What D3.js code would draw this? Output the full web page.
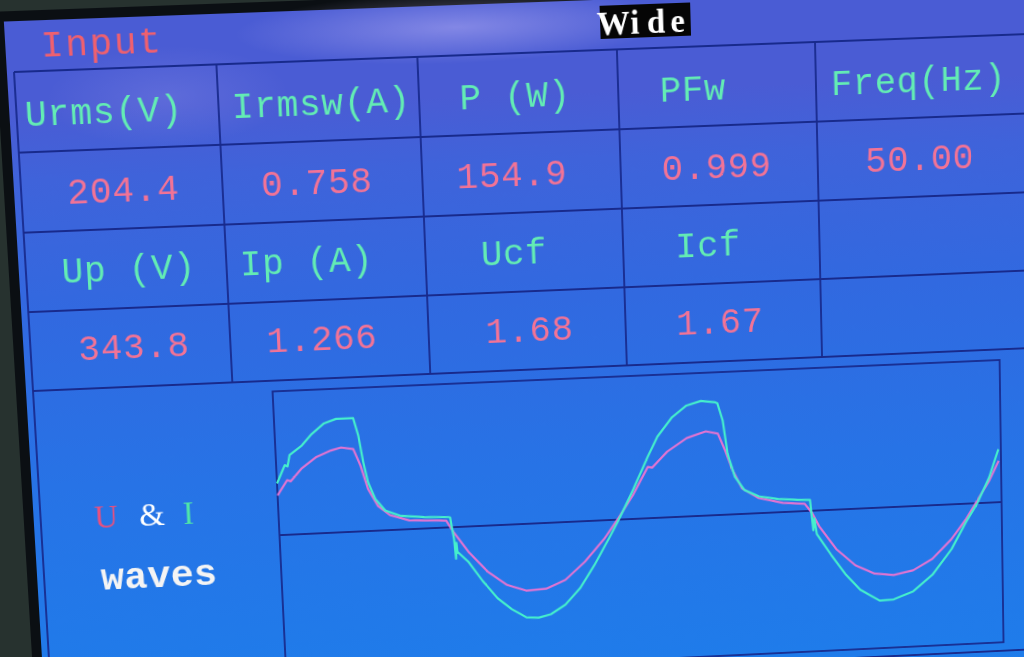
<!DOCTYPE html>
<html><head><meta charset="utf-8">
<script src="https://cdn.jsdelivr.net/npm/d3@7"></script>
<style>
html,body{margin:0;padding:0;width:1024px;height:657px;overflow:hidden;background:#27322f;}
#stage{position:absolute;left:0;top:0;width:1200px;height:820px;transform-origin:0 0;}
svg{display:block;}
text{white-space:pre;}
</style></head><body>
<div id="stage"></div>
<script>
// ---------- data ----------
const titleLeft = "Input";
const titleRight = "Wide";
const headerLabels = ["Urms(V)", "Irmsw(A)", "P (W)", "PFw", "Freq(Hz)"];
const headerValues = ["204.4", "0.758", "154.9", "0.999", "50.00"];
const peakLabels = ["Up (V)", "Ip (A)", "Ucf", "Icf"];
const peakValues = ["343.8", "1.266", "1.68", "1.67"];
const waveTitle = ["U", "&", "I"];
const waveSub = "waves";

// voltage trace U (V) vs time (ms)
const uTimeMs = [0,0.56,0.75,1.39,2.22,3.02,3.58,4.24,4.60,4.95,5.45,6.09,7.14,8.76,9.16,9.54,10.31,11.33,12.38,13.44,14.52,15.61,16.72,17.82,18.67,19.52,20.36,20.6,21.46,22.55,23.62,24.28,24.66,25.04,25.54,26.46,27.79,29.0,29.39,29.78,30.70,31.75,32.82,33.89,34.98,36.07,37.15,37.97,38.65,39.33,39.87];
const uVolt = [162,222,216,267,311,334,344,336,267,172,101,61,36,30,28,-20,-103,-188,-247,-274,-270,-237,-166,-77,8,101,210,206,269,320,344,333,263,182,105,62,38,30,-8,-65,-162,-233,-271,-281,-265,-221,-144,-66,12,91,170];
// current trace I (A) vs time (ms)
const iTimeMs = [0,0.47,0.62,0.76,1.45,2.01,2.71,3.38,4.31,4.55,4.75,4.97,5.33,5.84,6.63,7.96,9.29,9.38,9.55,9.62,9.67,9.71,10.28,11.04,11.82,12.59,13.38,14.05,14.74,15.56,16.40,17.24,18.08,18.67,19.52,20.37,20.94,21.78,22.59,23.40,24.18,24.30,24.57,24.79,25.16,25.68,26.47,27.54,28.61,29.30,29.45,29.52,29.64,30.42,31.22,32.0,33.07,33.87,34.97,36.06,37.16,37.96,38.64,39.33,39.86];
const iAmp = [0.568,0.764,0.75,0.873,0.971,1.091,1.201,1.244,1.244,1.048,0.764,0.535,0.349,0.218,0.153,0.127,0.114,0.109,-0.131,-0.349,-0.175,-0.273,-0.387,-0.611,-0.808,-0.939,-1.037,-1.048,-1.015,-0.917,-0.742,-0.491,-0.207,0,0.327,0.677,0.895,1.102,1.222,1.266,1.244,1.233,1.042,0.677,0.415,0.262,0.186,0.147,0.129,0.12,-0.218,-0.087,-0.262,-0.502,-0.731,-0.906,-1.037,-1.031,-0.950,-0.775,-0.498,-0.214,0,0.284,0.589];
const timeSpanMs = [0, 40];
const uFullScale = 586;   // V at the plot edge
const iFullScale = 1.583; // A at the plot edge

// ---------- layout (screen units) ----------
const OX = 60, OY = 90;
const colW = 200, rowH = 80, nCols = 5, nRows = 4;
const tableRight = 1040, screenBottom = 636;
const plot = {x0: 240, x1: 983, y0: 331, y1: 627};
const rowBaselines = [54, 133, 212, 291];
const headerCx = [86, 302, 496, 675, 904];
const valueCx = [101, 294, 490, 697, 904];
const peakLabelCx = [102, 280, 489, 686];
const peakValueCx = [103, 292, 502, 696];
const adv = 22.3;

// perspective of the photographed screen: four table corners -> photo pixels
const srcPts = [[OX, OY], [OX + 800, OY], [OX, OY + 320], [OX + 800, OY + 320]];
const dstPts = [[14, 72], [815, 42], [33, 391], [822, 357]];

function solveHomography(src, dst) {
  const A = [], B = [];
  for (let i = 0; i < 4; i++) {
    const [x, y] = src[i], [X, Y] = dst[i];
    A.push([x, y, 1, 0, 0, 0, -x * X, -y * X]); B.push(X);
    A.push([0, 0, 0, x, y, 1, -x * Y, -y * Y]); B.push(Y);
  }
  const n = 8;
  for (let c = 0; c < n; c++) {
    let p = c;
    for (let r = c + 1; r < n; r++) if (Math.abs(A[r][c]) > Math.abs(A[p][c])) p = r;
    [A[c], A[p]] = [A[p], A[c]]; [B[c], B[p]] = [B[p], B[c]];
    for (let r = 0; r < n; r++) {
      if (r === c) continue;
      const f = A[r][c] / A[c][c];
      for (let k = c; k < n; k++) A[r][k] -= f * A[c][k];
      B[r] -= f * B[c];
    }
  }
  return B.map((b, i) => b / A[i][i]);
}
const [ha, hb, hc, hd, he, hf, hg, hh] = solveHomography(srcPts, dstPts);
document.getElementById("stage").style.transform =
  `matrix3d(${ha},${hd},0,${hg},${hb},${he},0,${hh},0,0,1,0,${hc},${hf},0,1)`;

const svg = d3.select("#stage").append("svg").attr("width", 1200).attr("height", 820);
const defs = svg.append("defs");
const lg = defs.append("linearGradient").attr("id", "scr")
  .attr("gradientUnits", "userSpaceOnUse").attr("x1", 0).attr("y1", OY - 50).attr("x2", 0).attr("y2", OY + 640);
[[0, "#4a5cd4"], [0.1, "#3f63da"], [0.3, "#3169e0"], [0.55, "#2773e6"], [1, "#1b80ec"]]
  .forEach(([o, c]) => lg.append("stop").attr("offset", o).attr("stop-color", c));
const rg = defs.append("radialGradient").attr("id", "glare");
rg.append("stop").attr("offset", 0).attr("stop-color", "#d8c8ff").attr("stop-opacity", 0.4);
rg.append("stop").attr("offset", 1).attr("stop-color", "#d8c8ff").attr("stop-opacity", 0);

const g = svg.append("g").attr("transform", `translate(${OX},${OY})`);

// screen
g.append("rect").attr("x", -17).attr("y", -60).attr("width", 1200).attr("height", 900).attr("fill", "#0b0f13");
g.append("rect").attr("x", -7).attr("y", -50).attr("width", 1200).attr("height", 900).attr("fill", "url(#scr)");
g.append("ellipse").attr("cx", 440).attr("cy", -28).attr("rx", 220).attr("ry", 36).attr("fill", "url(#glare)");
g.append("ellipse").attr("cx", 150).attr("cy", 30).attr("rx", 120).attr("ry", 50).attr("fill", "url(#glare)").attr("opacity", 0.35);

// grid
const lineColor = "#182a8c";
const grid = g.append("g").attr("stroke", lineColor).attr("stroke-width", 1.8).attr("fill", "none");
d3.range(nRows + 1).forEach(r => grid.append("line").attr("x1", 0).attr("x2", tableRight).attr("y1", r * rowH).attr("y2", r * rowH));
d3.range(nCols).forEach(c => grid.append("line").attr("x1", c * colW).attr("x2", c * colW).attr("y1", 0).attr("y2", c === 0 ? screenBottom : nRows * rowH));
grid.append("line").attr("x1", 0).attr("x2", tableRight).attr("y1", screenBottom).attr("y2", screenBottom);

// mono text helper
function mono(parent, str, cx, by, step, opts) {
  const t = parent.append("text").attr("y", by)
    .attr("font-family", opts.family || "'Liberation Mono', 'DejaVu Sans Mono', monospace")
    .attr("font-size", opts.size).attr("font-weight", opts.weight || "normal")
    .attr("fill", opts.fill).attr("text-anchor", "middle");
  const n = str.length;
  for (let i = 0; i < n; i++) {
    t.append("tspan").attr("x", cx + (i - (n - 1) / 2) * step).attr("y", by).text(str[i]);
  }
  return t;
}
const labelFill = "#63ecb4", valueFill = "#f27396";

mono(g, titleLeft, 87, -14, 24, {size: 37, fill: "#f0606e"});
g.append("rect").attr("x", 584).attr("y", -44).attr("width", 91).attr("height", 33).attr("fill", "#050505");
mono(g, titleRight, 629.5, -15, 21.5, {size: 33, weight: "bold", fill: "#ffffff", family: "'Liberation Serif', 'DejaVu Serif', serif"});

headerLabels.forEach((s, i) => mono(g, s, headerCx[i], rowBaselines[0], adv, {size: 36, fill: labelFill}));
headerValues.forEach((s, i) => mono(g, s, valueCx[i], rowBaselines[1], adv, {size: 36, fill: valueFill}));
peakLabels.forEach((s, i) => mono(g, s, peakLabelCx[i], rowBaselines[2], adv, {size: 36, fill: labelFill}));
peakValues.forEach((s, i) => mono(g, s, peakValueCx[i], rowBaselines[3], adv, {size: 36, fill: valueFill}));

// U & I waves label
const uiY = 463;
const uiText = g.append("text").attr("y", uiY).attr("font-family", "'Liberation Serif', 'DejaVu Serif', serif")
  .attr("font-size", 33).attr("text-anchor", "middle");
const uiFills = ["#e8507e", "#ffffff", "#4fe6a8"];
const uiX = [66, 112, 149];
waveTitle.forEach((s, i) => {
  if (i > 0) uiText.append("tspan").attr("x", (uiX[i - 1] + uiX[i]) / 2).attr("y", uiY).text(" ");
  uiText.append("tspan").attr("x", uiX[i]).attr("y", uiY).attr("fill", uiFills[i]).text(s);
});
mono(g, waveSub, 116, 527, 23.5, {size: 39, weight: "bold", fill: "#f4f4f4"});

// plot
const x = d3.scaleLinear().domain(timeSpanMs).range([plot.x0, plot.x1]);
const half = 149;
const mid = (plot.y0 + plot.y1) / 2;
const yU = d3.scaleLinear().domain([-uFullScale, uFullScale]).range([mid + half, mid - half]);
const yI = d3.scaleLinear().domain([-iFullScale, iFullScale]).range([mid + half, mid - half]);
g.append("rect").attr("x", plot.x0).attr("y", plot.y0).attr("width", plot.x1 - plot.x0).attr("height", plot.y1 - plot.y0)
  .attr("fill", "none").attr("stroke", lineColor).attr("stroke-width", 1.8);
g.append("line").attr("x1", plot.x0).attr("x2", plot.x1).attr("y1", yU(0)).attr("y2", yU(0))
  .attr("stroke", lineColor).attr("stroke-width", 1.8);

const uData = uTimeMs.map((t, i) => [t, uVolt[i]]);
const iData = iTimeMs.map((t, i) => [t, iAmp[i]]);
g.append("path").datum(uData).attr("fill", "none").attr("stroke", "#e274d2").attr("stroke-width", 2.2)
  .attr("stroke-linejoin", "round")
  .attr("d", d3.line().x(d => x(d[0])).y(d => yU(d[1])));
g.append("path").datum(iData).attr("fill", "none").attr("stroke", "#45f0cc").attr("stroke-width", 2.2)
  .attr("stroke-linejoin", "round")
  .attr("d", d3.line().x(d => x(d[0])).y(d => yI(d[1])));
</script>
</body></html>
